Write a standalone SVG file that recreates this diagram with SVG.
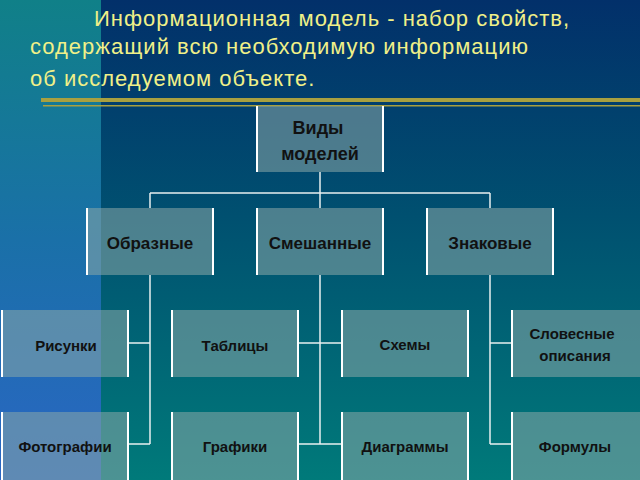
<svg xmlns="http://www.w3.org/2000/svg" width="640" height="480" viewBox="0 0 640 480">
<defs>
<linearGradient id="bgMain" x1="0" y1="0" x2="0" y2="1"><stop offset="0" stop-color="#02306a"/><stop offset="0.45" stop-color="#005070"/><stop offset="1" stop-color="#007a7a"/></linearGradient>
<linearGradient id="bgLeft" x1="0" y1="0" x2="0" y2="1"><stop offset="0" stop-color="#108088"/><stop offset="0.5" stop-color="#1a70a8"/><stop offset="1" stop-color="#2a66c4"/></linearGradient>
<style>
.box{fill:#8aa8a8;fill-opacity:0.55}
.bd{stroke:#ffffff;stroke-width:2}
.t{font-family:"Liberation Sans",Arial,sans-serif;font-weight:bold;fill:#111;text-anchor:middle}
.c{stroke:#e8f0f0;stroke-width:1.5;fill:none}
.title{font-family:"Liberation Sans",Arial,sans-serif;font-size:22px;fill:#f0f088;letter-spacing:1px}
</style>
</defs>
<rect width="640" height="480" fill="url(#bgMain)"/>
<rect width="101" height="480" fill="url(#bgLeft)"/>
<text class="title" x="94" y="26">Информационная модель - набор свойств,</text>
<text class="title" x="30" y="54">содержащий всю необходимую информацию</text>
<text class="title" x="30" y="86">об исследуемом объекте.</text>
<rect x="41" y="98" width="599" height="4" fill="#a8a040"/>
<rect x="43" y="105" width="597" height="1.5" fill="#a8a040"/>
<g id="connectors" class="c">
<path d="M320 172V193M150 193H490M150 193V208M320 193V208M490 193V208"/>
<path d="M150 275V444M150 343H129M150 444H129"/>
<path d="M320 275V444M299 343H341M299 444H341"/>
<path d="M490 275V444M490 343H511M490 444H511"/>
</g>
<g id="root"><rect class="box" x="256" y="106" width="128" height="66"/><path class="bd" d="M257 106V172M383 106V172"/><text class="t" x="318" y="134" font-size="18">Виды</text><text class="t" x="320" y="160" font-size="18">моделей</text></g>
<g id="obraznye"><rect class="box" x="86" y="208" width="128" height="67"/><path class="bd" d="M87 208V275M213 208V275"/><text class="t" x="150" y="249" font-size="17">Образные</text></g>
<g id="smeshannye"><rect class="box" x="256" y="208" width="128" height="67"/><path class="bd" d="M257 208V275M383 208V275"/><text class="t" x="320" y="249" font-size="17">Смешанные</text></g>
<g id="znakovye"><rect class="box" x="426" y="208" width="128" height="67"/><path class="bd" d="M427 208V275M553 208V275"/><text class="t" x="490" y="249" font-size="17">Знаковые</text></g>
<g id="risunki"><rect class="box" x="2" y="310" width="127" height="67"/><path class="bd" d="M2 310V377M128 310V377"/><text class="t" x="66" y="351" font-size="15">Рисунки</text></g>
<g id="tablicy"><rect class="box" x="171" y="310" width="128" height="67"/><path class="bd" d="M172 310V377M298 310V377"/><text class="t" x="235" y="351" font-size="15">Таблицы</text></g>
<g id="shemy"><rect class="box" x="341" y="310" width="128" height="67"/><path class="bd" d="M342 310V377M468 310V377"/><text class="t" x="405" y="350" font-size="15">Схемы</text></g>
<g id="slovesnye"><rect class="box" x="511" y="310" width="129" height="67"/><path class="bd" d="M512 310V377"/><text class="t" x="572" y="339" font-size="15">Словесные</text><text class="t" x="575" y="361" font-size="15">описания</text></g>
<g id="foto"><rect class="box" x="2" y="412" width="127" height="68"/><path class="bd" d="M2 412V480M128 412V480"/><text class="t" x="65" y="452" font-size="15">Фотографии</text></g>
<g id="grafiki"><rect class="box" x="171" y="412" width="128" height="68"/><path class="bd" d="M172 412V480M298 412V480"/><text class="t" x="235" y="452" font-size="15">Графики</text></g>
<g id="diagrammy"><rect class="box" x="341" y="412" width="128" height="68"/><path class="bd" d="M342 412V480M468 412V480"/><text class="t" x="405" y="452" font-size="15">Диаграммы</text></g>
<g id="formuly"><rect class="box" x="511" y="412" width="129" height="68"/><path class="bd" d="M512 412V480"/><text class="t" x="575" y="452" font-size="15">Формулы</text></g>
</svg>
